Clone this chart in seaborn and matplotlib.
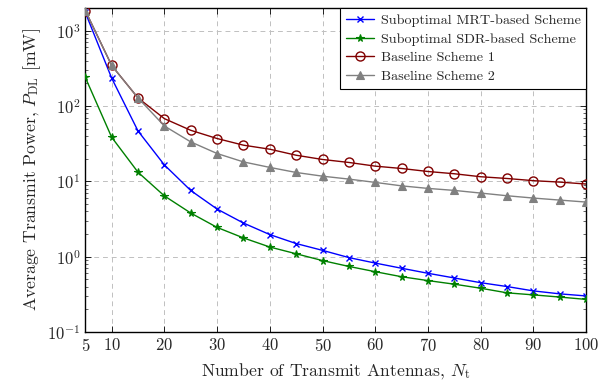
import numpy as np
import pandas as pd
import seaborn as sns
import matplotlib
matplotlib.use("Agg")
import matplotlib.pyplot as plt
from matplotlib.ticker import LogLocator, FixedLocator, NullFormatter

antennas = [5, 10, 15, 20, 25, 30, 35, 40, 45, 50, 55, 60, 65, 70, 75, 80, 85, 90, 95, 100]
mrt = [1750, 235, 46.6, 16.5, 7.55, 4.28, 2.79, 1.96, 1.49, 1.21, 0.97, 0.82, 0.70, 0.60, 0.52, 0.45, 0.40, 0.35, 0.32, 0.30]
sdr = [240, 38.5, 13.2, 6.4, 3.79, 2.44, 1.77, 1.34, 1.09, 0.885, 0.74, 0.63, 0.54, 0.48, 0.43, 0.38, 0.33, 0.31, 0.29, 0.27]
base1 = [1850, 346, 128, 68, 47.6, 37, 30.2, 26.7, 22.2, 19.5, 17.8, 15.9, 14.8, 13.5, 12.6, 11.5, 10.9, 10.2, 9.76, 9.2]
base2 = [1850, 346, 128, 54.3, 33.4, 23.4, 18.1, 15.3, 13.1, 11.7, 10.7, 9.67, 8.7, 8.05, 7.57, 6.98, 6.43, 5.99, 5.63, 5.3]
labels = ["Suboptimal MRT-based Scheme", "Suboptimal SDR-based Scheme",
          "Baseline Scheme 1", "Baseline Scheme 2"]
x_ticks = [5, 10, 20, 30, 40, 50, 60, 70, 80, 90, 100]

sns.set_style("ticks")
plt.rcParams["font.family"] = ["cmr10", "DejaVu Serif"]
plt.rcParams["mathtext.fontset"] = "cm"
plt.rcParams["axes.formatter.use_mathtext"] = True
plt.rcParams["axes.unicode_minus"] = False

fig = plt.figure(figsize=(6.15, 3.85), dpi=100)
ax = fig.add_axes([0.1387, 0.138, 0.953 - 0.1387, 0.979 - 0.138])

styles = [
    dict(color="#0000ff", marker="x", ms=4.5, mew=1.0, mfc="#0000ff"),
    dict(color="#008000", marker="*", ms=5.5, mew=0.8, mfc="#008000"),
    dict(color="#800000", marker="o", ms=6.5, mew=1.0, mfc="none"),
    dict(color="#808080", marker="^", ms=6, mew=0.8, mfc="#808080"),
]
series = [mrt, sdr, base1, base2]
for vals, lab, st in zip(series, labels, styles):
    df = pd.DataFrame({"N": antennas, "P": vals})
    sns.lineplot(data=df, x="N", y="P", ax=ax, label=lab, color=st["color"],
                 marker=st["marker"], markersize=st["ms"], markeredgewidth=st["mew"],
                 markerfacecolor=st["mfc"], markeredgecolor=st["color"],
                 linewidth=1.0, zorder=3)

ax.set_yscale("log")
ax.set_xlim(5, 100)
ax.set_ylim(0.1, 2000)
ax.xaxis.set_major_locator(FixedLocator(x_ticks))
ax.yaxis.set_major_locator(LogLocator(base=10, numticks=10))
ax.yaxis.set_minor_locator(LogLocator(base=10, subs=np.arange(2, 10), numticks=20))
ax.yaxis.set_minor_formatter(NullFormatter())
ax.tick_params(which="both", direction="in", top=True, right=True, labelsize=12)
ax.tick_params(which="major", length=4, width=0.6, color="#000000")
ax.tick_params(which="minor", length=2.5, width=0.5)
ax.grid(True, which="major", linestyle=(0, (5, 4)), color="#c0c0c0", linewidth=0.7)
for s in ax.spines.values():
    s.set_linewidth(1.0)
    s.set_color("black")

ax.set_xlabel(r"Number of Transmit Antennas, $N_{\mathrm{t}}$", fontsize=12.7, labelpad=5)
ax.set_ylabel(r"Average Transmit Power, $P_{\mathrm{DL}}$ [mW]", fontsize=12.7, labelpad=3)

leg = ax.legend(loc="upper right", fontsize=10.2, frameon=True, fancybox=False,
                edgecolor="black", framealpha=1, borderaxespad=0.0,
                handlelength=2.0, labelspacing=0.42, borderpad=0.4, handletextpad=0.45)
leg.get_frame().set_linewidth(0.8)

fig.savefig("out.png", dpi=100)
